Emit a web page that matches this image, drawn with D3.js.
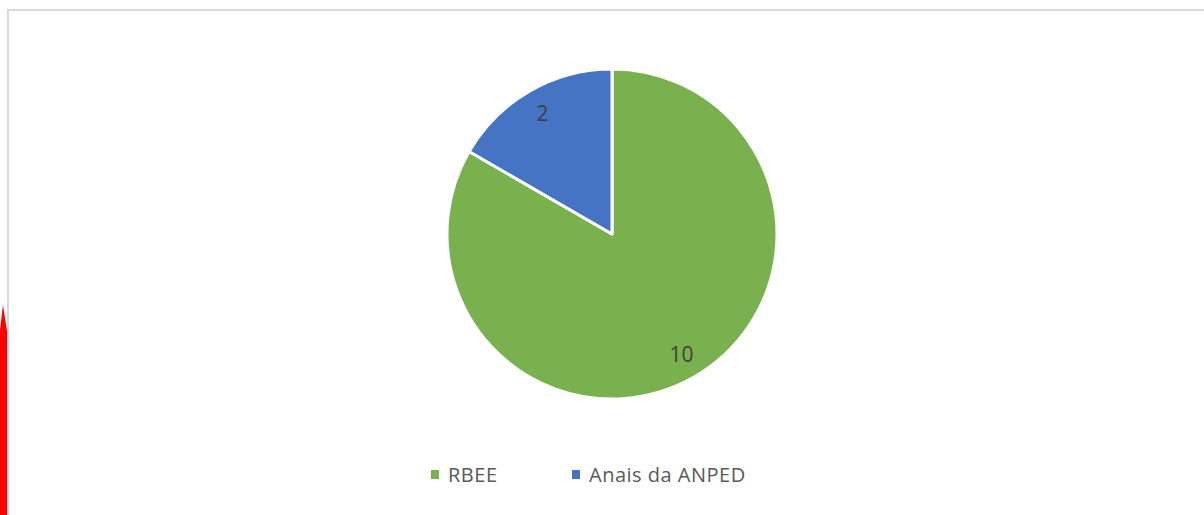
<!DOCTYPE html>
<html>
<head>
<meta charset="utf-8">
<script src="https://cdn.jsdelivr.net/npm/d3@7"></script>
<style>
    body { margin: 0; background: #fff; }
    svg { display: block; font-family: "Open Sans", "Liberation Sans", sans-serif; }
</style>
</head>
<body>
<div id="chart"></div>
<script>
// Chart data
const categories = ["RBEE", "Anais da ANPED"];
const values = [10, 2];
const colors = ["#79B14E", "#4674C4"];

const WIDTH = 1204;
const HEIGHT = 515;
const CENTER = { x: 612, y: 234 };
const RADIUS = 165;

const data = categories.map((c, i) => ({ name: c, value: values[i], color: colors[i] }));

const svg = d3.select("#chart")
    .append("svg")
    .attr("width", WIDTH)
    .attr("height", HEIGHT);

// chart frame (extends past the right / bottom edge)
svg.append("rect")
    .attr("x", 8)
    .attr("y", 10)
    .attr("width", WIDTH + 20)
    .attr("height", HEIGHT + 20)
    .attr("fill", "none")
    .attr("stroke", "#d9d9d9")
    .attr("stroke-width", 2);

// red marker on the left edge
svg.append("path")
    .attr("d", "M0,330 L3,305 L7,331 L7,515 L0,515 Z")
    .attr("fill", "#ff0000");

// --------------- PIE ---------------
const pie = d3.pie()
    .sort(null)
    .value(d => d.value);

const arc = d3.arc()
    .innerRadius(0)
    .outerRadius(RADIUS);

const labelArc = d3.arc()
    .innerRadius(139)
    .outerRadius(139);

const g = svg.append("g")
    .attr("transform", `translate(${CENTER.x},${CENTER.y})`);

const slices = pie(data);

g.selectAll(".slice")
    .data(slices)
    .enter()
    .append("path")
    .attr("class", "slice")
    .attr("d", arc)
    .attr("fill", d => d.data.color)
    .attr("stroke", "#fff")
    .attr("stroke-width", 3)
    .attr("stroke-linejoin", "round");

g.selectAll(".label")
    .data(slices)
    .enter()
    .append("text")
    .attr("class", "label")
    .attr("transform", d => `translate(${labelArc.centroid(d)})`)
    .attr("text-anchor", "middle")
    .attr("dy", "0.36em")
    .attr("font-size", 21)
    .attr("fill", "#404040")
    .text(d => d.data.value);

// --------------- LEGEND ---------------
const legendX = d3.scalePoint()
    .domain(categories)
    .range([431, 572]);

const legend = svg.append("g")
    .attr("transform", "translate(0,470)");

const item = legend.selectAll(".item")
    .data(data)
    .enter()
    .append("g")
    .attr("class", "item")
    .attr("transform", d => `translate(${legendX(d.name)},0)`);

item.append("rect")
    .attr("width", 8)
    .attr("height", 9)
    .attr("fill", d => d.color);

item.append("text")
    .attr("x", 17)
    .attr("y", 4.5)
    .attr("dy", "0.36em")
    .attr("font-size", 20)
    .attr("letter-spacing", 0.5)
    .attr("fill", "#595959")
    .text(d => d.name);
</script>
</body>
</html>
